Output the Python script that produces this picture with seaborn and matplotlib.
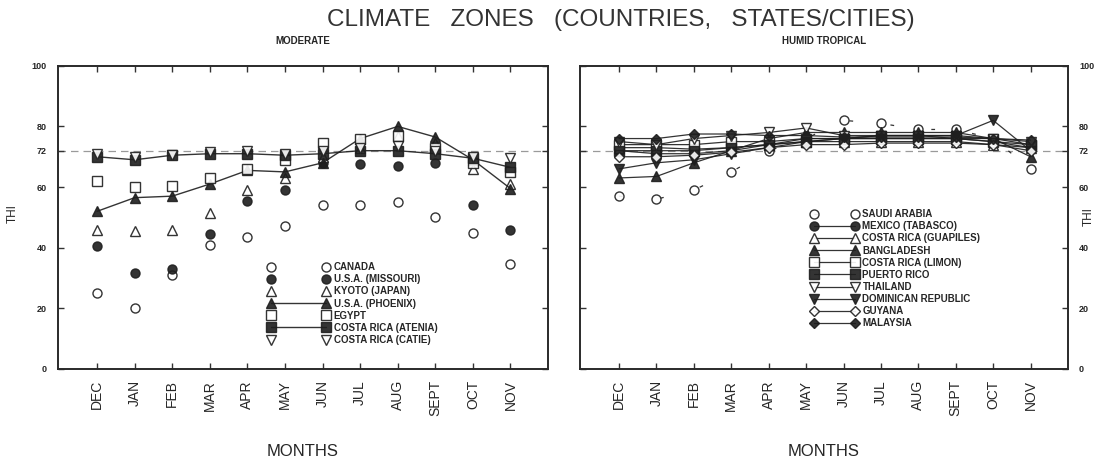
import matplotlib
matplotlib.use("Agg")
import matplotlib.pyplot as plt
import seaborn as sns

# Month order used on both panels
months = ["DEC", "JAN", "FEB", "MAR", "APR", "MAY", "JUN", "JUL", "AUG", "SEPT", "OCT", "NOV"]
thi_ticks = [0, 20, 40, 60, 72, 80, 100]

# Moderate climate zone (THI per month)
canada = [25, 20, 31, 41, 43.5, 47, 54, 54, 55, 50, 45, 34.5]
usa_missouri = [40.5, 31.5, 33, 44.5, 55.5, 59, 68, 67.5, 67, 68, 54, 46]
kyoto_japan = [46, 45.5, 46, 51.5, 59, 63, 70, 73, 77, 74.5, 66, 61]
usa_phoenix = [52, 56.5, 57, 61, 65.5, 65, 68, 76, 80, 76.5, 69, 59.5]
egypt = [62, 60, 60.5, 63, 66, 69, 74.5, 76, 77, 73, 68, 65]
costa_rica_atenia = [70, 69, 70.5, 71, 71, 70.5, 71, 72, 72, 71, 69.5, 66.5]
costa_rica_catie = [71, 70, 70.5, 71.5, 72, 71, 72, 73, 73.5, 72, 70, 69.5]

# Humid tropical climate zone (THI per month)
saudi_arabia = [57, 56, 59, 65, 72, 76, 82, 81, 79, 79, 76, 66]
mexico_tabasco = [72, 71, 71, 72, 74, 76, 76, 76, 76, 76, 75, 73]
costa_rica_guapiles = [73, 73, 72.5, 73, 74, 75, 75, 75, 75, 75, 74, 73]
bangladesh = [63, 63.5, 68, 72, 76, 78, 78, 78, 78, 78, 76, 70]
costa_rica_limon = [74, 74, 74, 75, 75, 76, 76, 76, 76, 76, 75, 74]
puerto_rico = [72, 72, 72, 73, 74, 75, 76, 77, 77, 77, 76, 74]
thailand = [75, 74, 76, 77, 78, 79.5, 77, 77, 77, 76, 76, 75]
dominican_republic = [66, 68, 69, 71, 73, 75, 76, 77, 77, 77, 82, 72]
guyana = [70, 70, 70.5, 71.5, 73, 74, 74, 74.5, 74.5, 74.5, 74, 72]
malaysia = [76, 76, 77.5, 77.5, 77, 77, 76.5, 76.5, 76.5, 76.5, 76, 75.5]

INK = "#1e1e1e"

moderate = [
    ("CANADA", canada, "o", False, "None"),
    ("U.S.A. (MISSOURI)", usa_missouri, "o", True, "None"),
    ("KYOTO (JAPAN)", kyoto_japan, "^", False, "None"),
    ("U.S.A. (PHOENIX)", usa_phoenix, "^", True, "-"),
    ("EGYPT", egypt, "s", False, "None"),
    ("COSTA RICA (ATENIA)", costa_rica_atenia, "s", True, "-"),
    ("COSTA RICA (CATIE)", costa_rica_catie, "v", False, "None"),
]

tropical = [
    ("SAUDI ARABIA", saudi_arabia, "o", False, (0, (3, 30))),
    ("MEXICO (TABASCO)", mexico_tabasco, "o", True, "-"),
    ("COSTA RICA (GUAPILES)", costa_rica_guapiles, "^", False, "-"),
    ("BANGLADESH", bangladesh, "^", True, "-"),
    ("COSTA RICA (LIMON)", costa_rica_limon, "s", False, "-"),
    ("PUERTO RICO", puerto_rico, "s", True, "-"),
    ("THAILAND", thailand, "v", False, "-"),
    ("DOMINICAN REPUBLIC", dominican_republic, "v", True, "-"),
    ("GUYANA", guyana, "D", False, "-"),
    ("MALAYSIA", malaysia, "D", True, "-"),
]

sns.set_theme(style="ticks")
plt.rcParams["font.family"] = ["Liberation Sans", "DejaVu Sans"]

fig = plt.figure(figsize=(11.05, 4.70), dpi=100)
ax_l = fig.add_axes([0.0525, 0.215, 0.4435, 0.645])
ax_r = fig.add_axes([0.5250, 0.215, 0.4415, 0.645])

x = list(range(len(months)))


def draw_panel(ax, series, lw):
    for label, vals, mk, filled, ls in series:
        ms = 6.5 if mk in ("o", "s") else 7
        if mk == "D":
            ms = 5.5
        sns.lineplot(
            x=x, y=vals, ax=ax, label=label, color=INK, marker=mk,
            markersize=ms, mfc=INK if filled else "white", mec=INK,
            mew=1.0, linestyle=ls, lw=lw, alpha=0.9, sort=False,
        )
    ax.axhline(72, color="#9a9a9a", lw=0.9, ls=(0, (6, 4)), zorder=0)
    ax.set_xlim(-1.04, 12.0)
    ax.set_ylim(0, 100)
    ax.set_xticks(x)
    ax.set_xticklabels(months, rotation=90, fontsize=10)
    ax.set_yticks(thi_ticks)
    ax.set_yticklabels([str(t) for t in thi_ticks], fontsize=6.5, fontweight="bold")
    ax.tick_params(direction="in", length=4, width=1.0, color="#333333",
                   top=True, right=True, bottom=True, left=True)
    ax.tick_params(axis="x", pad=8)
    for sp in ax.spines.values():
        sp.set_linewidth(1.4)
        sp.set_color("#2a2a2a")
    ax.set_xlabel("MONTHS", fontsize=12, labelpad=20)
    ax.set_ylabel("")


draw_panel(ax_l, moderate, 1.0)
draw_panel(ax_r, tropical, 0.9)

ax_r.yaxis.tick_right()
ax_r.tick_params(axis="y", direction="in", left=True, right=True, pad=8)
ax_l.tick_params(axis="y", pad=8)

# THI axis names sit beside the tick label columns
fig.text(0.0115, 0.545, "THI", rotation=90, ha="center", va="center", fontsize=8.5)
fig.text(0.985, 0.540, "THI", rotation=90, ha="center", va="center", fontsize=8.5)

legend_kw = dict(frameon=False, numpoints=2, handletextpad=0.5,
                 borderaxespad=0.0, labelspacing=0.22,
                 prop={"weight": "bold", "size": 7})
ax_l.legend(loc="upper left", bbox_to_anchor=(0.42, 0.365), handlelength=6.3, **legend_kw)
ax_r.legend(loc="upper left", bbox_to_anchor=(0.465, 0.54), handlelength=4.8, **legend_kw)

fig.text(0.562, 0.958, "CLIMATE   ZONES   (COUNTRIES,   STATES/CITIES)",
         ha="center", va="center", fontsize=17.5, color="#333333")
ax_l.set_title("MODERATE", fontsize=7, fontweight="bold", pad=16)
ax_r.set_title("HUMID TROPICAL", fontsize=7, fontweight="bold", pad=16)

fig.savefig("out.png", dpi=100, facecolor="white")
